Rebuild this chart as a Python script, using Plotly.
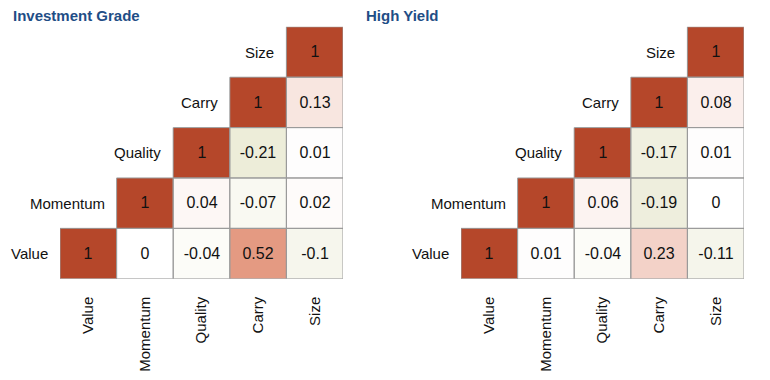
import plotly.graph_objects as go

factors = ["Value", "Momentum", "Quality", "Carry", "Size"]
panel_titles = ["Investment Grade", "High Yield"]

# correlation matrices (row = factor on y axis, col = factor on x axis), upper triangle shown
ig_corr = [
    [1, 0, -0.04, 0.52, -0.1],
    [None, 1, 0.04, -0.07, 0.02],
    [None, None, 1, -0.21, 0.01],
    [None, None, None, 1, 0.13],
    [None, None, None, None, 1],
]
hy_corr = [
    [1, 0.01, -0.04, 0.23, -0.11],
    [None, 1, 0.06, -0.19, 0],
    [None, None, 1, -0.17, 0.01],
    [None, None, None, 1, 0.08],
    [None, None, None, None, 1],
]

OFF = 8  # page body margin
W, H = 770 - 2 * OFF, 380 - 2 * OFF
FONT = "Liberation Sans, Arial, sans-serif"
colorscale = [[0, "#a8a84a"], [0.5, "#ffffff"], [0.76, "#e49a82"], [1, "#b5472a"]]


def px_x(v):
    return (v - OFF) / W


def px_y(v):
    return 1 - (v - OFF) / H


fig = go.Figure()
domains = [(px_x(60), px_x(343)), (px_x(461), px_x(744))]
ydom = (px_y(281), px_y(27))
title_x = [px_x(11), px_x(364)]

for p, (mat, title) in enumerate(zip([ig_corr, hy_corr], panel_titles)):
    xa = "x" if p == 0 else "x2"
    ya = "y" if p == 0 else "y2"
    text = [["" if v is None else f"{v:g}" for v in row] for row in mat]
    fig.add_trace(go.Heatmap(
        z=mat, x=list(range(len(factors))), y=list(range(len(factors))),
        text=text, texttemplate="%{text}",
        textfont=dict(family=FONT, size=16, color="#111111"),
        colorscale=colorscale, zmin=-1, zmax=1, showscale=False,
        hoverinfo="skip", xaxis=xa, yaxis=ya,
    ))
    # cell borders
    for i, row in enumerate(mat):
        for j, v in enumerate(row):
            if v is None:
                continue
            fig.add_shape(type="rect", xref=xa, yref=ya,
                          x0=j - 0.5, x1=j + 0.5, y0=i - 0.5, y1=i + 0.5,
                          line=dict(color="#9a9a9a", width=1), fillcolor="rgba(0,0,0,0)")
    # row labels next to diagonal
    for i, name in enumerate(factors):
        fig.add_annotation(x=i - 0.5, y=i, xref=xa, yref=ya, text=name,
                           showarrow=False, xanchor="right", xshift=-10,
                           font=dict(family=FONT, size=15, color="#111111"))
    fig.add_annotation(x=title_x[p], y=px_y(5), xref="paper", yref="paper",
                       text=f"<b>{title}</b>", showarrow=False,
                       xanchor="left", yanchor="top",
                       font=dict(family=FONT, size=15, color="#1f4e86"))
    axis_x = dict(domain=list(domains[p]), range=[-0.5, 4.5], tickmode="array",
                  tickvals=list(range(len(factors))), ticktext=factors,
                  tickangle=-90, ticks="", showgrid=False, zeroline=False,
                  showline=False, ticklabelstandoff=14,
                  tickfont=dict(family=FONT, size=15, color="#111111"),
                  anchor=ya)
    axis_y = dict(domain=list(ydom), range=[-0.5, 4.5], showticklabels=False,
                  ticks="", showgrid=False, zeroline=False, showline=False,
                  anchor=xa)
    if p == 0:
        fig.update_layout(xaxis=axis_x, yaxis=axis_y)
    else:
        fig.update_layout(xaxis2=axis_x, yaxis2=axis_y)

fig.update_layout(width=W, height=H, margin=dict(l=0, r=0, t=0, b=0),
                  plot_bgcolor="white", paper_bgcolor="white",
                  font=dict(family=FONT))
fig.write_html("out.html")
